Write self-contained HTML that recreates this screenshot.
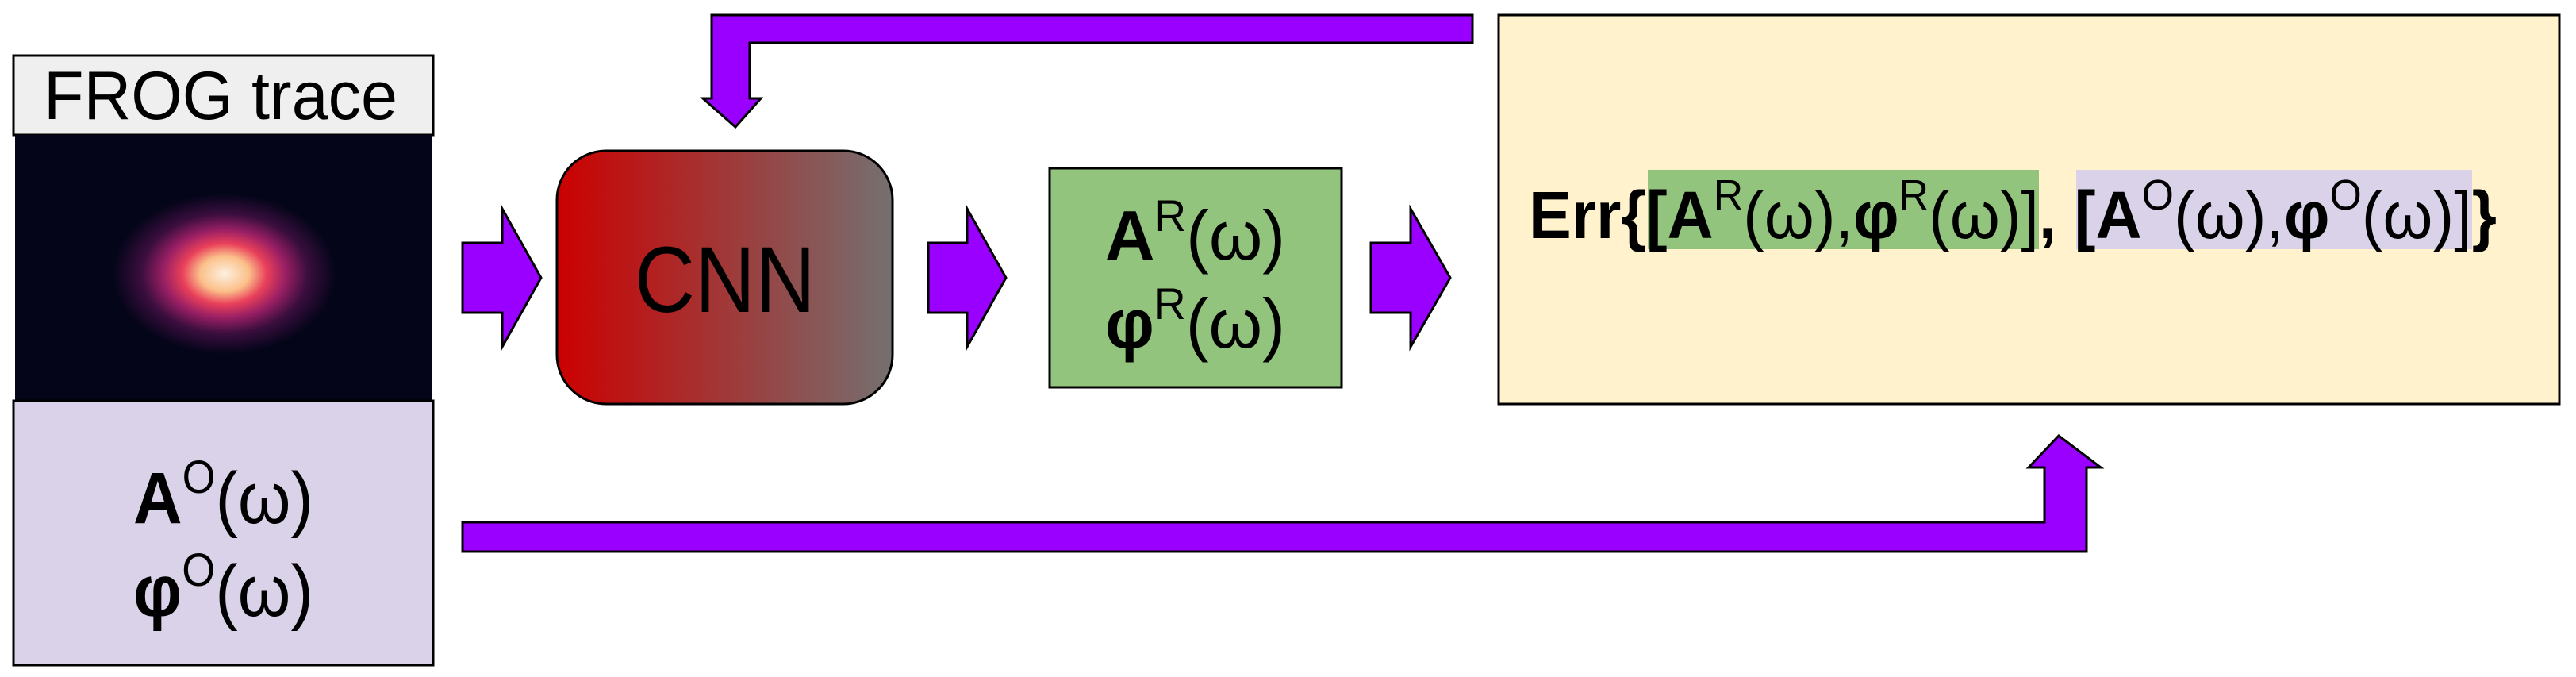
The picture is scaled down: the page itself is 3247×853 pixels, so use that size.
<!DOCTYPE html>
<html><head><meta charset="utf-8"><style>html,body{margin:0;padding:0;background:#fff}svg{display:block}</style></head>
<body>
<svg width="3247" height="853" viewBox="0 0 3247 853" xmlns="http://www.w3.org/2000/svg" font-family="Liberation Sans, sans-serif">
<defs>
<linearGradient id="cnn" x1="0" x2="1" y1="0" y2="0"><stop offset="0" stop-color="#cc0000"/><stop offset="1" stop-color="#757070"/></linearGradient>
<radialGradient id="blob" cx="283" cy="345" r="140" gradientUnits="userSpaceOnUse" gradientTransform="translate(283 345) scale(1 0.72) translate(-283 -345)">
<stop offset="0" stop-color="#fdf0e0"/><stop offset="0.22" stop-color="#fbc08a"/><stop offset="0.38" stop-color="#e9405a"/><stop offset="0.55" stop-color="#9a1f64"/><stop offset="0.75" stop-color="#3a0e3e"/><stop offset="1" stop-color="#05051a"/></radialGradient>
</defs>
<!-- FROG -->
<rect x="17" y="70" width="529" height="100" fill="#efefef" stroke="#000" stroke-width="3"/>
<text x="55" y="150" font-size="86" textLength="446" lengthAdjust="spacingAndGlyphs">FROG trace</text>
<rect x="19" y="170" width="525" height="335" fill="#05051a"/>
<rect x="19" y="170" width="525" height="335" fill="url(#blob)"/>
<rect x="17" y="505" width="529" height="333" fill="#d9d2e9" stroke="#000" stroke-width="3"/>
<text x="168" y="659" font-size="92" font-weight="bold" textLength="227" lengthAdjust="spacingAndGlyphs">A<tspan font-weight="normal" font-size="58" dy="-38">O</tspan><tspan font-weight="normal" dy="38">(ω)</tspan></text>
<text x="168" y="776" font-size="92" font-weight="bold" textLength="227" lengthAdjust="spacingAndGlyphs">φ<tspan font-weight="normal" font-size="58" dy="-38">O</tspan><tspan font-weight="normal" dy="38">(ω)</tspan></text>
<!-- arrows -->
<polygon points="583,306 633,306 633,263 682,350 633,437 633,394 583,394" fill="#9900ff" stroke="#000" stroke-width="3"/>
<polygon points="1170,306 1219,306 1219,263 1268,350 1219,437 1219,394 1170,394" fill="#9900ff" stroke="#000" stroke-width="3"/>
<polygon points="1728,306 1778,306 1778,263 1828,350 1778,437 1778,394 1728,394" fill="#9900ff" stroke="#000" stroke-width="3"/>
<!-- CNN -->
<rect x="702" y="190" width="423" height="319" rx="62" fill="url(#cnn)" stroke="#000" stroke-width="3"/>
<text x="800" y="393" font-size="118" textLength="228" lengthAdjust="spacingAndGlyphs">CNN</text>
<!-- green -->
<rect x="1323" y="212" width="368" height="276" fill="#93c47d" stroke="#000" stroke-width="3"/>
<text x="1393" y="327" font-size="88" font-weight="bold" textLength="227" lengthAdjust="spacingAndGlyphs">A<tspan font-weight="normal" font-size="56" dy="-36">R</tspan><tspan font-weight="normal" dy="36">(ω)</tspan></text>
<text x="1393" y="438" font-size="88" font-weight="bold" textLength="227" lengthAdjust="spacingAndGlyphs">φ<tspan font-weight="normal" font-size="56" dy="-36">R</tspan><tspan font-weight="normal" dy="36">(ω)</tspan></text>
<!-- yellow -->
<rect x="1889" y="19" width="1337" height="490" fill="#fff2cc" stroke="#000" stroke-width="3"/>
<rect x="2077" y="214" width="493" height="100" fill="#93c47d"/>
<rect x="2617" y="214" width="499" height="100" fill="#d9d2e9"/>
<text x="1927" y="300" font-size="84" font-weight="bold" textLength="1220" lengthAdjust="spacingAndGlyphs">Err{[A<tspan font-weight="normal" font-size="54" dy="-36">R</tspan><tspan font-weight="normal" dy="36">(ω),</tspan><tspan>φ</tspan><tspan font-weight="normal" font-size="54" dy="-36">R</tspan><tspan font-weight="normal" dy="36">(ω)]</tspan><tspan>, [A</tspan><tspan font-weight="normal" font-size="54" dy="-36">O</tspan><tspan font-weight="normal" dy="36">(ω),</tspan><tspan>φ</tspan><tspan font-weight="normal" font-size="54" dy="-36">O</tspan><tspan font-weight="normal" dy="36">(ω)]</tspan><tspan>}</tspan></text>
<!-- top feedback arrow -->
<polygon points="1856,19 897,19 897,124 886,124 927,160 959,124 945,124 945,54 1856,54" fill="#9900ff" stroke="#000" stroke-width="3"/>
<!-- bottom arrow -->
<polygon points="583,658 2577,658 2577,589 2557,589 2595,549 2648,589 2630,589 2630,695 583,695" fill="#9900ff" stroke="#000" stroke-width="3"/>
</svg>
</body></html>
